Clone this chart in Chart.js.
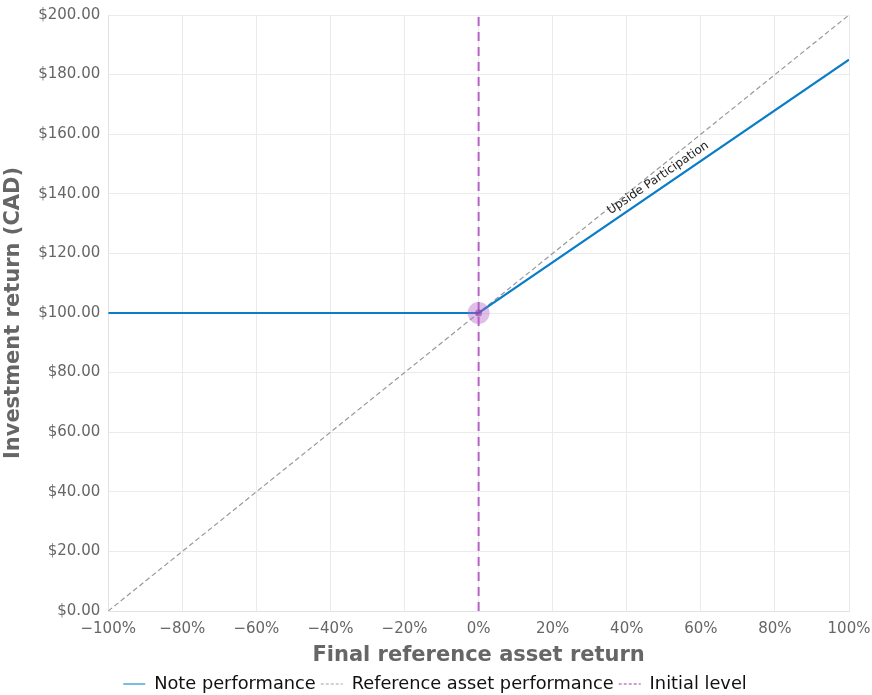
<!DOCTYPE html>
<html>
<head>
<meta charset="utf-8">
<script src="https://cdn.jsdelivr.net/npm/chart.js@4"></script>
<style>
  html, body { margin: 0; padding: 0; background: #fff; }
  #wrap { width: 872px; height: 695px; }
</style>
</head>
<body>
<div id="wrap"><canvas id="myChart"></canvas></div>
<script>
// chart values
const returnPct = [-100, 0, 100];
const notePerformance = [100, 100, 185];
const referencePerformance = [0, 100, 200];
const initialLevelX = [0, 0];
const initialLevelY = [0, 200];
const markerPoint = { x: 0, y: 100 };
const annotationText = 'Upside Participation';
const annotationAt = 50; // % return along the note line

const fontFamily = "'DejaVu Sans', sans-serif";

// legend marker colours are a bit paler than the lines
const legendColors = ['rgba(10, 125, 200, 0.7)', 'rgba(153, 153, 153, 0.6)', 'rgba(176, 90, 196, 0.8)'];

// draws the rotated label along the note line
const upsideLabel = {
  id: 'upsideLabel',
  afterDatasetsDraw(chart) {
    let xs = chart.scales.x, ys = chart.scales.y;
    let x0 = xs.getPixelForValue(0), y0 = ys.getPixelForValue(notePerformance[1]);
    let x1 = xs.getPixelForValue(100), y1 = ys.getPixelForValue(notePerformance[2]);
    let angle = Math.atan2(y1 - y0, x1 - x0);
    let yAt = notePerformance[1] + (notePerformance[2] - notePerformance[1]) * annotationAt / 100;
    let px = xs.getPixelForValue(annotationAt), py = ys.getPixelForValue(yAt);
    let ctx = chart.ctx;
    ctx.save();
    ctx.translate(px, py);
    ctx.rotate(angle);
    ctx.font = '12px ' + fontFamily;
    ctx.fillStyle = '#222';
    ctx.textAlign = 'center';
    ctx.textBaseline = 'bottom';
    ctx.fillText(annotationText, 0, -4);
    ctx.restore();
  }
};

let ctx = document.getElementById('myChart').getContext('2d');
let myChart = new Chart(ctx, {
  type: 'scatter',
  data: {
    datasets: [
      {
        label: 'Note performance',
        data: returnPct.map((x, i) => ({ x: x, y: notePerformance[i] })),
        showLine: true,
        borderColor: '#0a7dc8',
        backgroundColor: '#0a7dc8',
        borderWidth: 2.2,
        pointRadius: 0,
        order: 1
      },
      {
        label: 'Reference asset performance',
        data: returnPct.map((x, i) => ({ x: x, y: referencePerformance[i] })),
        showLine: true,
        borderColor: '#999999',
        backgroundColor: '#999999',
        borderWidth: 1.2,
        borderDash: [5, 3],
        pointRadius: 0,
        order: 2
      },
      {
        label: 'Initial level',
        data: initialLevelX.map((x, i) => ({ x: x, y: initialLevelY[i] })),
        showLine: true,
        borderColor: '#b661c8',
        backgroundColor: '#b661c8',
        borderWidth: 2,
        borderDash: [9, 6],
        pointRadius: 0,
        order: 3
      },
      {
        label: 'marker',
        data: [markerPoint, markerPoint],
        pointRadius: [11, 3.5],
        pointBackgroundColor: ['rgba(176, 96, 196, 0.4)', 'rgba(150, 60, 170, 0.6)'],
        pointBorderWidth: 0,
        order: 0
      }
    ]
  },
  options: {
    responsive: true,
    maintainAspectRatio: false,
    animation: false,
    layout: { padding: { top: 1, right: 3, left: 1, bottom: -8 } },
    plugins: {
      tooltip: { enabled: false },
      legend: {
        position: 'bottom',
        labels: {
          usePointStyle: true,
          pointStyle: 'line',
          pointStyleWidth: 22,
          padding: 5,
          color: '#111',
          font: { family: fontFamily, size: 17.8 },
          generateLabels: chart => {
            let items = Chart.defaults.plugins.legend.labels.generateLabels(chart);
            items = items.filter(item => item.text !== 'marker');
            items.forEach(item => {
              let ds = chart.data.datasets[item.datasetIndex];
              item.lineDash = ds.borderDash ? [3, 2] : [];
              item.strokeStyle = legendColors[item.datasetIndex];
              item.lineWidth = 1.5;
            });
            return items;
          }
        }
      }
    },
    scales: {
      x: {
        type: 'linear',
        min: -100,
        max: 100,
        afterFit: scale => { scale.paddingRight = 23; },
        grid: { color: '#ebebeb', drawTicks: false },
        border: { color: '#e2e2e2' },
        ticks: {
          stepSize: 20,
          padding: 9,
          color: '#666',
          font: { family: fontFamily, size: 15 },
          callback: v => (v < 0 ? '\u2212' : '') + Math.abs(v) + '%'
        },
        title: {
          display: true,
          text: 'Final reference asset return',
          color: '#666',
          font: { family: fontFamily, size: 21, weight: 'bold' },
          padding: { top: -4, bottom: 2 }
        }
      },
      y: {
        min: 0,
        max: 200,
        afterFit: scale => { scale.paddingTop = 15; },
        grid: { color: '#ebebeb', drawTicks: false },
        border: { color: '#e2e2e2' },
        ticks: {
          stepSize: 20,
          padding: 8,
          color: '#666',
          font: { family: fontFamily, size: 15 },
          callback: v => '$' + v.toFixed(2)
        },
        title: {
          display: true,
          text: 'Investment return (CAD)',
          color: '#666',
          font: { family: fontFamily, size: 21, weight: 'bold' },
          padding: { top: 0, bottom: 4 }
        }
      }
    }
  },
  plugins: [upsideLabel]
});
</script>
</body>
</html>
